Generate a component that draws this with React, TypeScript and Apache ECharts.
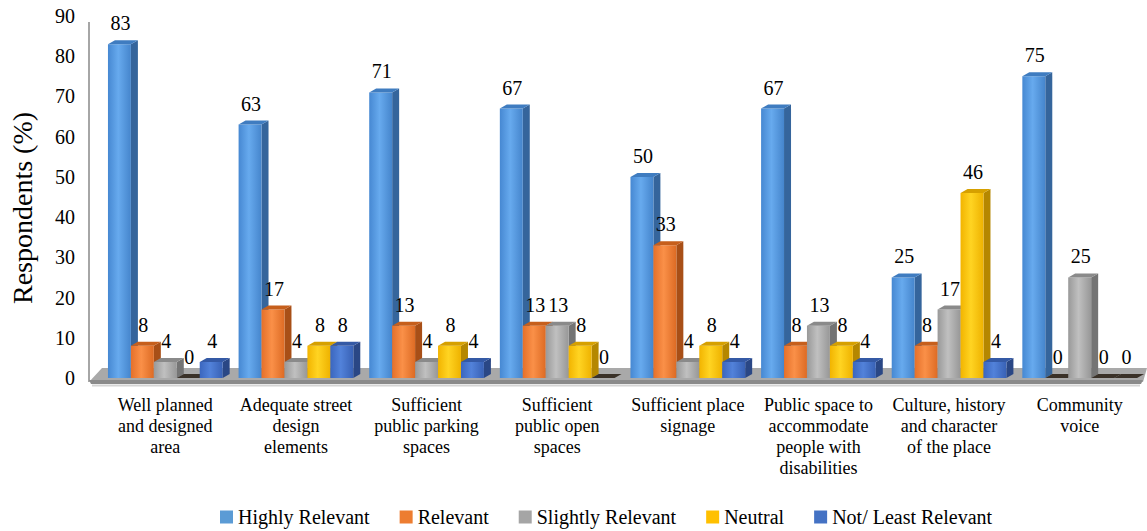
import React, { useEffect, useRef } from "react";
import * as echarts from "echarts";

// Survey categories (shown with their wrapped lines)
const categories = [
  "Well planned\nand designed\narea",
  "Adequate street\ndesign\nelements",
  "Sufficient\npublic parking\nspaces",
  "Sufficient\npublic open\nspaces",
  "Sufficient place\nsignage",
  "Public space to\naccommodate\npeople with\ndisabilities",
  "Culture, history\nand character\nof the place",
  "Community\nvoice",
];

// Percentage of respondents per rating
const highlyRelevant = [83, 63, 71, 67, 50, 67, 25, 75];
const relevant = [8, 17, 13, 13, 33, 8, 8, 0];
const slightlyRelevant = [4, 4, 4, 13, 4, 13, 17, 25];
const neutral = [0, 8, 8, 8, 8, 8, 46, 0];
const notLeastRelevant = [4, 8, 4, 0, 4, 4, 4, 0];

const seriesNames = [
  "Highly Relevant",
  "Relevant",
  "Slightly Relevant",
  "Neutral",
  "Not/ Least Relevant",
];
const seriesValues = [highlyRelevant, relevant, slightlyRelevant, neutral, notLeastRelevant];

// Value axis ticks
const yMin = 0;
const yMax = 90;
const yStep = 10;

type Palette = { legend: string; front: string[]; top: string; side: string };

const palettes: Palette[] = [
  { legend: "#5B9BD5", front: ["#4688d2", "#67aaee", "#4585cc"], top: "#3f7cc0", side: "#35659c" },
  { legend: "#ED7D31", front: ["#e5702a", "#fa9048", "#dd6b24"], top: "#c65f1c", side: "#a84f17" },
  { legend: "#A5A5A5", front: ["#999999", "#c0c0c0", "#979797"], top: "#8a8a8a", side: "#747474" },
  { legend: "#FFC000", front: ["#f2b400", "#ffd422", "#eeb200"], top: "#d6a000", side: "#b58700" },
  { legend: "#4472C4", front: ["#3b66be", "#5282da", "#3861b5"], top: "#3459a5", side: "#2a4785" },
];

const SERIF = "'Times New Roman', 'Liberation Serif', 'DejaVu Serif', serif";
const DX = 7; // depth offset to the right
const DY = 4; // depth offset upwards

function makeRenderItem(si: number, pal: Palette) {
  return (params: any, api: any) => {
    const cat = api.value(0) as number;
    const val = api.value(1) as number;
    const base = api.coord([cat, 0]);
    const top = api.coord([cat, val]);
    const band = api.size([1, 0])[0] as number;
    const slot = (band * 0.878) / 5;
    const x0 = base[0] + (si - 2.5) * slot;
    const x1 = x0 + slot;
    const yb = base[1];
    const yt = top[1];
    const children: any[] = [];
    if (val > 0) {
      children.push({
        type: "polygon",
        shape: { points: [[x1, yt], [x1 + DX, yt - DY], [x1 + DX, yb - DY], [x1, yb]] },
        style: { fill: pal.side },
      });
      children.push({
        type: "rect",
        shape: { x: x0, y: yt, width: slot, height: yb - yt },
        style: {
          fill: {
            type: "linear",
            x: 0,
            y: 0,
            x2: 1,
            y2: 0,
            colorStops: [
              { offset: 0, color: pal.front[0] },
              { offset: 0.45, color: pal.front[1] },
              { offset: 1, color: pal.front[2] },
            ],
          },
        },
      });
      children.push({
        type: "polygon",
        shape: { points: [[x0, yt], [x1, yt], [x1 + DX, yt - DY], [x0 + DX, yt - DY]] },
        style: { fill: pal.top },
      });
    } else {
      children.push({
        type: "polygon",
        shape: { points: [[x0, yb], [x1, yb], [x1 + DX, yb - DY], [x0 + DX, yb - DY]] },
        style: { fill: "#3a3128" },
      });
    }
    children.push({
      type: "text",
      style: {
        text: String(val),
        x: (x0 + x1) / 2 + 1,
        y: yt - DY - 7,
        align: "center",
        verticalAlign: "bottom",
        font: "20px " + SERIF,
        fill: "#000000",
      },
    });
    return { type: "group", children };
  };
}

export default function App() {
  const ref = useRef<HTMLDivElement>(null);

  useEffect(() => {
    if (!ref.current) return;
    const chart = echarts.init(ref.current, undefined, { renderer: "svg" });

    const series = seriesNames.map((name, si) => ({
      type: "custom",
      name,
      z: 3,
      itemStyle: { color: palettes[si].legend },
      renderItem: makeRenderItem(si, palettes[si]),
      encode: { x: 0, y: 1 },
      data: seriesValues[si].map((v, ci) => [ci, v]),
    }));

    chart.setOption({
      animation: false,
      backgroundColor: "#ffffff",
      textStyle: { fontFamily: SERIF },
      grid: { left: 97, right: 2, top: 16, bottom: 153, containLabel: false },
      xAxis: {
        type: "category",
        data: categories,
        axisLine: { show: false },
        axisTick: { show: false },
        splitLine: { show: false },
        axisLabel: {
          interval: 0,
          margin: 16,
          fontSize: 18,
          lineHeight: 21,
          fontFamily: SERIF,
          color: "#000000",
          align: "center",
        },
      },
      yAxis: {
        type: "value",
        min: yMin,
        max: yMax,
        interval: yStep,
        name: "Respondents (%)",
        nameLocation: "middle",
        nameRotate: 90,
        nameGap: 64,
        nameTextStyle: {
          fontSize: 28,
          fontFamily: SERIF,
          color: "#000000",
          padding: [0, 22, 0, 0],
        },
        axisLine: { show: false },
        axisTick: { show: false },
        splitLine: { show: false },
        axisLabel: {
          margin: 25,
          fontSize: 20,
          fontFamily: SERIF,
          color: "#000000",
          padding: [8, 0, 0, 0],
        },
      },
      legend: {
        data: seriesNames,
        left: 220,
        top: 507,
        padding: 0,
        icon: "rect",
        itemWidth: 13,
        itemHeight: 13,
        itemGap: 30,
        textStyle: { fontSize: 20, fontFamily: SERIF, color: "#000000" },
      },
      graphic: [
        {
          type: "group",
          z: 1,
          children: [
            // back wall edge
            {
              type: "line",
              shape: { x1: 89, y1: 22, x2: 89, y2: 382 },
              style: { stroke: "#a6a6a6", lineWidth: 2 },
            },
            // floor surface
            {
              type: "polygon",
              shape: { points: [[89, 382], [102, 368], [1147, 368], [1143, 382]] },
              style: { fill: "#a9a9a9" },
            },
            // floor front edge
            {
              type: "polygon",
              shape: { points: [[89, 380], [1143, 380], [1141, 384], [91, 384]] },
              style: { fill: "#8a8a8a" },
            },
            {
              type: "line",
              shape: { x1: 92, y1: 385.5, x2: 1140, y2: 385.5 },
              style: { stroke: "#d4d4d4", lineWidth: 2 },
            },
          ],
        },
      ],
      series,
    });

    return () => chart.dispose();
  }, []);

  return (
    <div
      ref={ref}
      style={{ position: "fixed", left: 0, top: 0, width: 1147, height: 531, background: "#fff" }}
    />
  );
}
